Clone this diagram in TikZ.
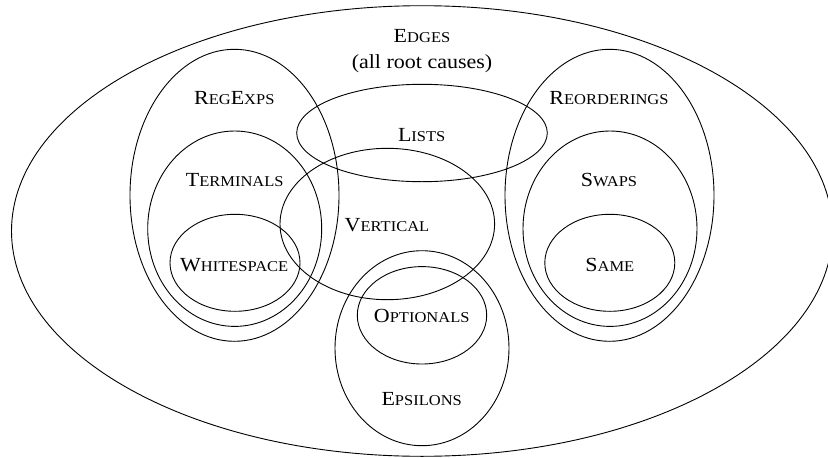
\documentclass[tikz,border=0pt]{standalone}
\usepackage{fontspec}
\setmainfont{Liberation Serif}
\newcommand\Sm[1]{{\fontsize{15}{15}\selectfont #1}}
\newcommand\Lb[1]{\scalebox{1.1}[1]{#1}}
\begin{document}
\begin{tikzpicture}[x=1pt,y=-1pt,
  set/.style={line width=0.9pt,black},
  lab/.style={font=\fontsize{20}{22}\selectfont, inner sep=0pt, anchor=base}]
\useasboundingbox (0,0) rectangle (828,458);
\clip (0,0) rectangle (828,458);
% ellipses
\draw[set] (422,231) ellipse [x radius=410.5pt, y radius=225.3pt];
\draw[set] (234.5,195.3) ellipse [x radius=104.5pt, y radius=146pt];
\draw[set] (234.7,228.7) ellipse [x radius=87pt, y radius=97.7pt];
\draw[set] (235,262.8) ellipse [x radius=65pt, y radius=48.5pt];
\draw[set] (422,133) ellipse [x radius=125.3pt, y radius=48.7pt];
\draw[set] (387.3,224) ellipse [x radius=107.3pt, y radius=75.7pt];
\draw[set] (422,348.2) ellipse [x radius=87pt, y radius=97.5pt];
\draw[set] (422,315.3) ellipse [x radius=64.7pt, y radius=48.7pt];
\draw[set] (609.5,195.3) ellipse [x radius=104.5pt, y radius=146pt];
\draw[set] (610,228.7) ellipse [x radius=87pt, y radius=97.7pt];
\draw[set] (609.8,262.8) ellipse [x radius=65pt, y radius=48.5pt];
% labels
\node[lab] (edges) at (422,42.7) {\Lb{E\Sm{DGES}}};
\node[lab] (root) at (422,68) {\Lb{(all root causes)}};
\node[lab] (regexps) at (234.3,104) {\Lb{R\Sm{EG}E\Sm{XPS}}};
\node[lab] (terminals) at (234.7,186.7) {\Lb{T\Sm{ERMINALS}}};
\node[lab] (whitespace) at (234.2,271.3) {\Lb{W\Sm{HITESPACE}}};
\node[lab] (lists) at (421.7,141.7) {\Lb{L\Sm{ISTS}}};
\node[lab] (vertical) at (387,231.7) {\Lb{V\Sm{ERTICAL}}};
\node[lab] (optionals) at (421.7,322.7) {\Lb{O\Sm{PTIONALS}}};
\node[lab] (epsilons) at (421.7,405) {\Lb{E\Sm{PSILONS}}};
\node[lab] (reorderings) at (609,104) {\Lb{R\Sm{EORDERINGS}}};
\node[lab] (swaps) at (609,186.7) {\Lb{S\Sm{WAPS}}};
\node[lab] (same) at (609.8,271.3) {\Lb{S\Sm{AME}}};
\end{tikzpicture}
\end{document}
